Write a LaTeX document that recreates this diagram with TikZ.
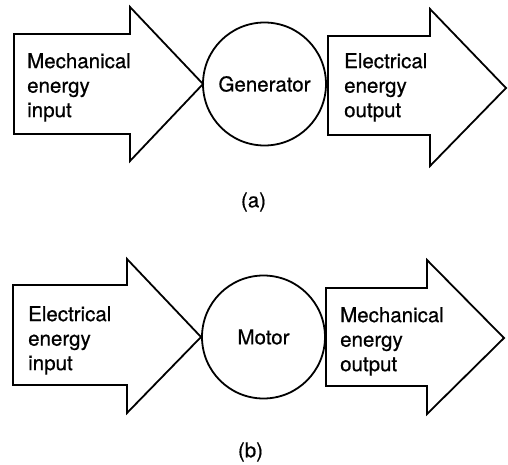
\documentclass[tikz,border=0pt]{standalone}
\usepackage{fontspec}
\setmainfont{TeX Gyre Heros}[FakeBold=0.6,AutoFakeBold=0.6]
\begin{document}
\begin{tikzpicture}[x=1pt,y=-1pt,line join=miter,
  bigarrow/.style={draw,line width=1.8pt},
  lbl/.style={anchor=north west,inner sep=0pt,align=left,font=\fontsize{20.5}{24.5}\selectfont\bfseries},
  machine/.style={circle,draw,line width=1.8pt,minimum size=123pt,inner sep=0pt,font=\fontsize{20.5}{24.5}\selectfont\bfseries},
  figlabel/.style={inner sep=0pt,font=\fontsize{20.5}{24.5}\selectfont\bfseries}]
\useasboundingbox (0,0) rectangle (508,465);
% (a)
\draw[bigarrow] (14,34) -- (130,34) -- (130,7) -- (203,84) -- (130,161) -- (130,134) -- (14,134) -- cycle;
\node[machine] (gen) at (264.5,84) {Generator};
\draw[bigarrow] (328,36) -- (430,36) -- (430,9) -- (506,88) -- (430,166) -- (430,135) -- (328,135) -- cycle;
\node[lbl] (mi) at (27,53) {Mechanical\\energy\\input};
\node[lbl] (eo) at (344,53) {Electrical\\energy\\output};
\node[figlabel] (a) at (253.5,202) {(a)};
% (b)
\draw[bigarrow] (13,285) -- (127,285) -- (127,259) -- (201,337) -- (127,413) -- (127,385) -- (13,385) -- cycle;
\node[machine] (mot) at (263.5,337) {Motor};
\draw[bigarrow] (326,288) -- (427,288) -- (427,260) -- (504,338) -- (427,414) -- (427,386) -- (326,386) -- cycle;
\node[lbl] (ei) at (28,306) {Electrical\\energy\\input};
\node[lbl] (mo) at (340,307) {Mechanical\\energy\\output};
\node[figlabel] (b) at (250.5,452) {(b)};
\end{tikzpicture}
\end{document}
